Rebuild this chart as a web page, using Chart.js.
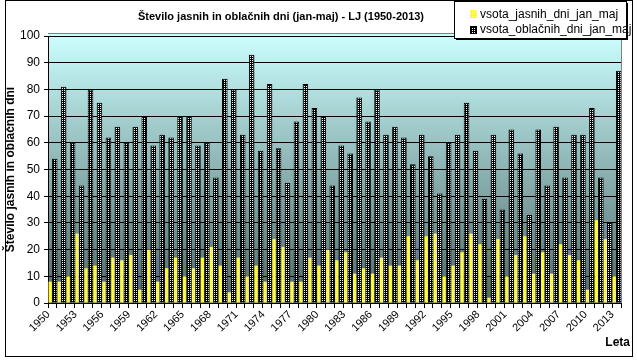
<!DOCTYPE html>
<html>
<head>
<meta charset="utf-8">
<script src="https://cdn.jsdelivr.net/npm/chart.js@4.4.0/dist/chart.umd.min.js"></script>
<style>
  html, body { margin: 0; padding: 0; background: #fff; }
</style>
</head>
<body>
<canvas id="chart" width="637" height="361"></canvas>
<script>
const years = [
  "1950", "1951", "1952", "1953", "1954", "1955", "1956", "1957", "1958", "1959",
  "1960", "1961", "1962", "1963", "1964", "1965", "1966", "1967", "1968", "1969",
  "1970", "1971", "1972", "1973", "1974", "1975", "1976", "1977", "1978", "1979",
  "1980", "1981", "1982", "1983", "1984", "1985", "1986", "1987", "1988", "1989",
  "1990", "1991", "1992", "1993", "1994", "1995", "1996", "1997", "1998", "1999",
  "2000", "2001", "2002", "2003", "2004", "2005", "2006", "2007", "2008", "2009",
  "2010", "2011", "2012", "2013"
];
// only every third year gets a label
const shownYears = [
  "1950", "1953", "1956", "1959", "1962", "1965", "1968", "1971", "1974", "1977", "1980",
  "1983", "1986", "1989", "1992", "1995", "1998", "2001", "2004", "2007", "2010", "2013"
];
const clearDays = [
  8, 8, 10, 26, 13, 14, 8, 17, 16, 18,
  5, 20, 8, 13, 17, 10, 13, 17, 21, 14,
  4, 17, 10, 14, 8, 24, 21, 8, 8, 17,
  14, 20, 16, 19, 11, 13, 11, 17, 14, 14,
  25, 16, 25, 26, 10, 14, 19, 26, 22, 2,
  24, 10, 18, 25, 11, 19, 11, 22, 18, 16,
  5, 31, 24, 10
];
const cloudyDays = [
  54, 81, 60, 44, 80, 75, 62, 66, 60, 66,
  70, 59, 63, 62, 70, 70, 59, 60, 47, 84,
  80, 63, 93, 57, 82, 58, 45, 68, 82, 73,
  70, 44, 59, 56, 77, 68, 80, 63, 66, 62,
  52, 63, 55, 41, 60, 63, 75, 57, 39, 63,
  35, 65, 56, 33, 65, 44, 66, 47, 63, 63,
  73, 47, 30, 87
];
const seriesNames = ["vsota_jasnih_dni_jan_maj", "vsota_oblačnih_dni_jan_maj"];
const chartTitle = "Število jasnih in oblačnih dni (jan-maj) - LJ (1950-2013)";
const yTitle = "Število jasnih in oblačnih dni";
const xTitle = "Leta";

const FONT = "'Liberation Sans', Arial, sans-serif";
const ctx = document.getElementById("chart").getContext("2d");

// small 2x2 tiles for the dotted bar fills
const makePattern = (base, dot) => {
  const c = document.createElement("canvas");
  c.width = 2;
  c.height = 2;
  const g = c.getContext("2d");
  g.fillStyle = base;
  g.fillRect(0, 0, 2, 2);
  g.fillStyle = dot;
  g.fillRect(0, 0, 1, 1);
  return ctx.createPattern(c, "repeat");
};
const yellowFill = makePattern("#ffff00", "#ffffb0");
const blackFill = makePattern("#000000", "#ffffff");

const decor = {
  id: "decor",
  beforeDraw(chart) {
    const { ctx, chartArea: a } = chart;
    ctx.save();
    ctx.fillStyle = "#fff";
    ctx.fillRect(0, 0, chart.width, chart.height);
    const grad = ctx.createLinearGradient(0, a.top - 3, 0, a.bottom);
    grad.addColorStop(0, "#ccffff");
    grad.addColorStop(1, "#4f6868");
    ctx.fillStyle = grad;
    ctx.fillRect(a.left, a.top - 3, a.right - a.left, a.bottom - a.top + 3);
    // grey plot frame (top and right)
    ctx.strokeStyle = "#808080";
    ctx.lineWidth = 1;
    ctx.beginPath();
    ctx.moveTo(a.left, a.top - 2.5);
    ctx.lineTo(a.right + 0.5, a.top - 2.5);
    ctx.lineTo(a.right + 0.5, a.bottom);
    ctx.stroke();
    ctx.restore();
  },
  afterDraw(chart) {
    const { ctx } = chart;
    ctx.save();
    // title
    ctx.fillStyle = "#000";
    ctx.font = "bold 11px " + FONT;
    ctx.textAlign = "center";
    ctx.textBaseline = "middle";
    ctx.fillText(chartTitle, 281, 17);

    // x axis title
    ctx.font = "bold 12px " + FONT;
    ctx.textAlign = "right";
    ctx.fillText(xTitle, 630, 343);

    // legend box with shadow
    const lx = 454, ly = 1, lw = 172, lh = 37;
    ctx.fillStyle = "#000";
    ctx.fillRect(lx + 2, ly + lh, lw, 2);
    ctx.fillRect(lx + lw, ly + 2, 2, lh);
    ctx.fillStyle = "#fff";
    ctx.fillRect(lx, ly, lw, lh);
    ctx.strokeStyle = "#000";
    ctx.lineWidth = 1;
    ctx.strokeRect(lx + 0.5, ly + 0.5, lw, lh);

    ctx.font = "12px " + FONT;
    ctx.textAlign = "left";
    ctx.fillStyle = yellowFill;
    ctx.fillRect(470, 10, 7, 8);
    ctx.fillStyle = blackFill;
    ctx.fillRect(470, 26, 7, 8);
    ctx.strokeRect(470.5, 26.5, 6, 7);
    ctx.fillStyle = "#000";
    ctx.fillText(seriesNames[0], 480, 15);
    ctx.fillText(seriesNames[1], 480, 30);

    // outer frame
    ctx.strokeStyle = "#000";
    ctx.strokeRect(5.5, 0.5, 627, 356);
    ctx.restore();
  },
};

new Chart(ctx, {
  type: "bar",
  data: {
    labels: years,
    datasets: [
      {
        label: seriesNames[0],
        data: clearDays,
        backgroundColor: yellowFill,
        borderWidth: 0,
        barPercentage: 0.75,
        categoryPercentage: 1,
      },
      {
        label: seriesNames[1],
        data: cloudyDays,
        backgroundColor: blackFill,
        borderColor: "#000",
        borderWidth: 1,
        barPercentage: 1.25,
        categoryPercentage: 1,
      },
    ],
  },
  options: {
    responsive: false,
    animation: false,
    devicePixelRatio: 1,
    layout: { padding: { left: 0, top: 36, right: 16, bottom: 0 } },
    plugins: {
      legend: { display: false },
      title: { display: false },
      tooltip: { enabled: false },
    },
    scales: {
      x: {
        grid: {
          offset: true,
          drawOnChartArea: false,
          drawTicks: true,
          tickLength: 5,
          tickColor: "#000",
        },
        border: { color: "#000", width: 1 },
        ticks: {
          autoSkip: false,
          minRotation: 45,
          maxRotation: 45,
          padding: 0,
          labelOffset: -4,
          color: "#000",
          font: { family: FONT, size: 11 },
          callback: function (value, index) {
            const y = years[index];
            return shownYears.includes(y) ? y : "";
          },
        },
        afterFit: (scale) => {
          scale.height = 58;
        },
      },
      y: {
        min: 0,
        max: 100,
        grid: {
          color: "#000",
          tickLength: 4,
          tickColor: "#000",
        },
        border: { color: "#000", width: 1 },
        ticks: {
          stepSize: 10,
          padding: 4,
          color: "#000",
          font: { family: FONT, size: 12 },
        },
        title: {
          display: true,
          text: yTitle,
          color: "#000",
          padding: { top: 3, bottom: 0 },
          font: { family: FONT, size: 12, weight: "bold" },
        },
        afterFit: (scale) => {
          scale.width = 48;
        },
      },
    },
  },
  plugins: [decor],
});
</script>
</body>
</html>
